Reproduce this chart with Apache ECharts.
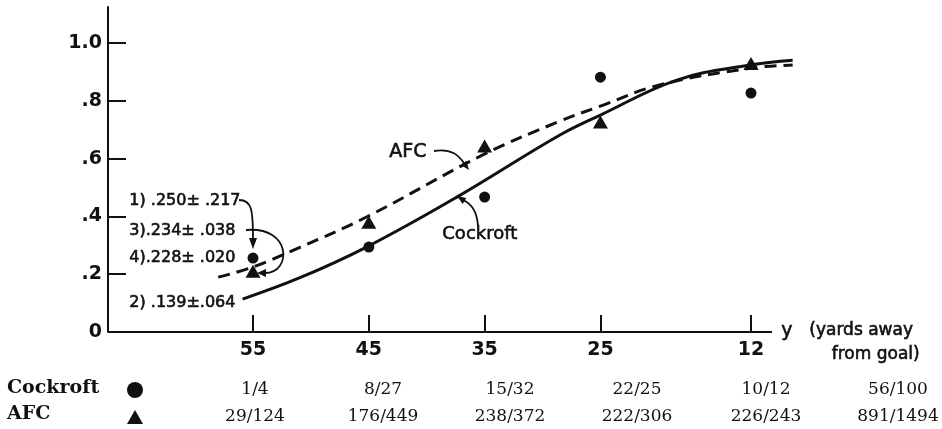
<!DOCTYPE html>
<html>
<head>
<meta charset="utf-8">
<script src="https://cdn.jsdelivr.net/npm/echarts@6/dist/echarts.min.js"></script>
<style>html,body{margin:0;background:#fff}#main{width:942px;height:429px}</style>
</head>
<body>
<div id="main"></div>
<script type="text/javascript">
// tick positions along the field (yards away from goal) and the probability axis
var yardTicks = [55, 45, 35, 25, 12];
var probTicks = [0, 0.2, 0.4, 0.6, 0.8, 1.0];
var probLabels = ['0', '.2', '.4', '.6', '.8', '1.0'];

var cockroftPts = [0.256, 0.294, 0.467, 0.882, 0.827];
var afcPts = [0.21, 0.38, 0.644, 0.727, 0.929];

// fitted curves (yards, rate)
var cockroftCurveX = [55.9, 51, 45.2, 37.4, 28.5, 25, 18.4, 12.1, 8.4];
var cockroftCurveY = [0.114, 0.187, 0.294, 0.467, 0.682, 0.751, 0.872, 0.924, 0.941];
var afcCurveX = [58, 55, 50.9, 45.2, 35.2, 28.5, 25, 19.9, 12.1, 8.4];
var afcCurveY = [0.19, 0.225, 0.294, 0.398, 0.612, 0.73, 0.782, 0.855, 0.913, 0.924];

// drawn x axis runs from the y axis to just past the 12 yard tick
var xAxisSpan = [67.52, 10.19];

// table under the chart
var cockroftFrac = ['1/4', '8/27', '15/32', '22/25', '10/12', '56/100'];
var afcFrac = ['29/124', '176/449', '238/372', '222/306', '226/243', '891/1494'];
var notes = ['1) .250\u00b1 .217', '3).234\u00b1 .038', '4).228\u00b1 .020', '2) .139\u00b1.064'];

var sans = 'DejaVu Sans';
var serif = 'DejaVu Serif';
var ink = '#111';

function zip(xs, ys) {
    var out = [];
    for (var i = 0; i < xs.length; i++) out.push([xs[i], ys[i]]);
    return out;
}
// hand lettering is a bit heavier than the regular face
function letter(txt, size, extra) {
    var s = {text: txt, font: size + 'px ' + sans, fill: ink, stroke: ink, lineWidth: 0.6};
    for (var k in extra) s[k] = extra[k];
    return s;
}

var myChart = echarts.init(document.getElementById('main'));

var graphics = [];
// notes next to the 55 yard points
var noteY = [202, 232, 259, 304];
for (var i = 0; i < notes.length; i++) {
    graphics.push({type: 'text', left: 129, top: noteY[i] - 9, style: letter(notes[i], 16)});
}
var stroke = {stroke: ink, lineWidth: 1.8, fill: null};
graphics.push(
    {type: 'bezierCurve', shape: {x1: 239, y1: 200, cpx1: 252, cpy1: 200, cpx2: 253, cpy2: 210, x2: 253, y2: 240}, style: stroke},
    {type: 'polygon', shape: {points: [[249, 238], [257, 238], [253, 249]]}, style: {fill: ink}},
    {type: 'bezierCurve', shape: {x1: 246, y1: 230, cpx1: 292, cpy1: 226, cpx2: 292, cpy2: 273, x2: 265, y2: 273}, style: stroke},
    {type: 'polygon', shape: {points: [[266, 269], [266, 277], [257, 273]]}, style: {fill: ink}},
    // curve labels
    {type: 'text', left: 389, top: 142, style: letter('AFC', 19)},
    {type: 'bezierCurve', shape: {x1: 434, y1: 151, cpx1: 452, cpy1: 148, cpx2: 459, cpy2: 156, x2: 464, y2: 163}, style: stroke},
    {type: 'polygon', shape: {points: [[469, 170], [466.4, 160.7], [460.8, 164.9]]}, style: {fill: ink}},
    {type: 'text', left: 442, top: 225, style: letter('Cockroft', 18)},
    {type: 'bezierCurve', shape: {x1: 478, y1: 226, cpx1: 477, cpy1: 210, cpx2: 470, cpy2: 203, x2: 463, y2: 200}, style: stroke},
    {type: 'polygon', shape: {points: [[457, 196], [466.4, 198.1], [462.6, 203.9]]}, style: {fill: ink}},
    // x axis title
    {type: 'text', left: 781, top: 321, style: letter('y', 19)},
    {type: 'text', left: 809, top: 322, style: letter('(yards away', 17)},
    {type: 'text', right: 22, top: 346, style: letter('from goal)', 17, {align: 'right'})},
    // table
    {type: 'text', left: 7, top: 379, style: {text: 'Cockroft', font: 'bold 19px ' + serif, fill: ink}},
    {type: 'text', left: 7, top: 405, style: {text: 'AFC', font: 'bold 19px ' + serif, fill: ink}},
    {type: 'circle', shape: {cx: 135, cy: 390, r: 8}, style: {fill: ink}},
    {type: 'polygon', shape: {points: [[127, 424], [143, 424], [135, 410]]}, style: {fill: ink}}
);
var colX = [255, 383, 510, 637, 766, 898];
for (var c = 0; c < colX.length; c++) {
    graphics.push({type: 'text', x: colX[c], y: 390,
        style: {text: cockroftFrac[c], font: '17px ' + serif, fill: ink, align: 'center', verticalAlign: 'middle'}});
    graphics.push({type: 'text', x: colX[c], y: 417,
        style: {text: afcFrac[c], font: '17px ' + serif, fill: ink, align: 'center', verticalAlign: 'middle'}});
}

var option = {
    backgroundColor: '#fff',
    animation: false,
    grid: {left: 108, right: 147, top: 7, bottom: 97},
    xAxis: {
        type: 'value', inverse: true, min: 8.2, max: 67.52,
        splitLine: {show: false},
        axisLine: {show: false},
        axisTick: {inside: true, length: 17, customValues: yardTicks, lineStyle: {color: ink, width: 2}},
        axisLabel: {customValues: yardTicks, margin: 9, color: ink, fontFamily: sans, fontWeight: 'bold', fontSize: 19}
    },
    yAxis: {
        type: 'value', min: 0, max: 1.125,
        splitLine: {show: false},
        axisLine: {show: true, lineStyle: {color: ink, width: 2}},
        axisTick: {inside: true, length: 18, customValues: probTicks.slice(1), lineStyle: {color: ink, width: 2}},
        axisLabel: {
            customValues: probTicks, margin: 6, color: ink, fontFamily: sans, fontWeight: 'bold', fontSize: 19,
            formatter: function (v) {
                var k = probTicks.indexOf(Math.round(v * 10) / 10);
                return k < 0 ? '' : probLabels[k];
            }
        }
    },
    series: [
        {name: 'Cockroft fit', type: 'line', data: zip(cockroftCurveX, cockroftCurveY),
            showSymbol: false, smooth: 0.4, lineStyle: {color: ink, width: 3},
            markLine: {silent: true, symbol: 'none', label: {show: false},
                lineStyle: {color: ink, width: 2, type: 'solid'},
                data: [[{coord: [xAxisSpan[0], 0]}, {coord: [xAxisSpan[1], 0]}]]}},
        {name: 'AFC fit', type: 'line', data: zip(afcCurveX, afcCurveY),
            showSymbol: false, smooth: 0.4, lineStyle: {color: ink, width: 3, type: [12, 7]}},
        {name: 'Cockroft', type: 'scatter', data: zip(yardTicks, cockroftPts), symbol: 'circle', symbolSize: 11,
            itemStyle: {color: ink, opacity: 1}},
        {name: 'AFC', type: 'scatter', data: zip(yardTicks, afcPts), symbol: 'triangle', symbolSize: [15, 13],
            itemStyle: {color: ink, opacity: 1}}
    ],
    graphic: graphics
};
myChart.setOption(option);
</script>
</body>
</html>
